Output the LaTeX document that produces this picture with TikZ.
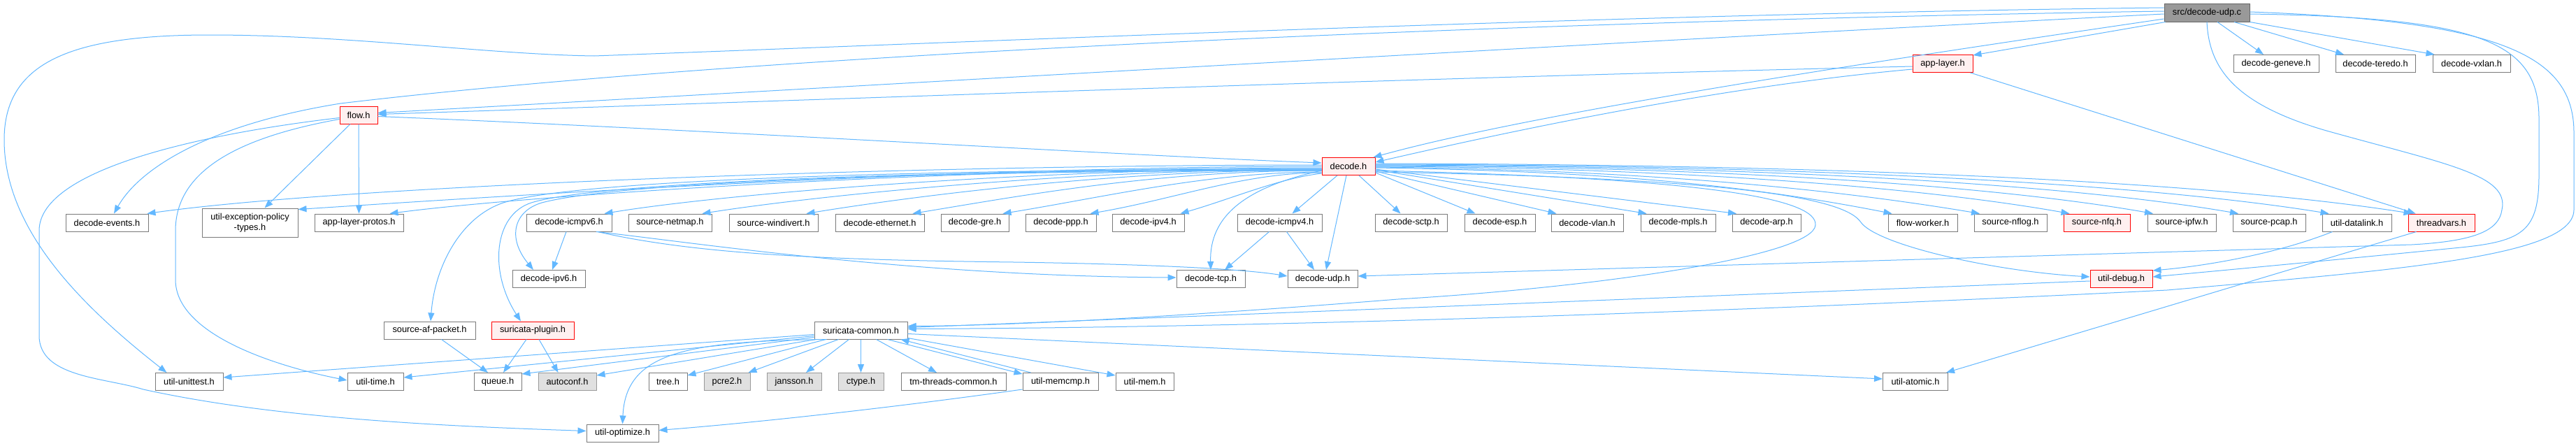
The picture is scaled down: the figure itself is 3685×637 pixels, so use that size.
\documentclass[tikz,border=0pt]{standalone}
\usepackage{fontspec}
\setmainfont{Liberation Sans}
\usetikzlibrary{arrows.meta,calc}
\definecolor{edgeblue}{HTML}{63B8FF}
\definecolor{nodegray}{HTML}{7A7A7A}
\definecolor{nodered}{HTML}{FF0000}
\definecolor{nodepink}{HTML}{FFF0F0}
\definecolor{sysgray}{HTML}{999999}
\definecolor{sysfill}{HTML}{E0E0E0}
\definecolor{rootdraw}{HTML}{666666}
\definecolor{rootfill}{HTML}{999999}
\newcommand\nodefont{\fontsize{12.8}{15}\selectfont}
\tikzset{
  nb/.style={draw=nodegray, fill=white, line width=1pt, minimum height=25pt, inner sep=0pt, font=\nodefont, text=black},
  nr/.style={nb, draw=nodered, fill=nodepink},
  ns/.style={nb, draw=sysgray, fill=sysfill},
  nroot/.style={nb, draw=rootdraw, fill=rootfill},
  e/.style={draw=edgeblue, line width=1pt, -{Triangle[length=12pt,width=9pt]}},
}
\begin{document}
\begin{tikzpicture}[x=1pt,y=-1pt]
\useasboundingbox[fill=white] (0,0) rectangle (3685,637);
% ---------- nodes ----------
\node[nroot, minimum width=122pt, minimum height=26pt] (R) at (3157,18) {src/decode-udp.c};
\node[nr, minimum width=86pt] (app) at (2779,91) {app-layer.h};
\node[nb, minimum width=122pt] (gen) at (3256,91) {decode-geneve.h};
\node[nb, minimum width=114pt] (ter) at (3398,91) {decode-teredo.h};
\node[nb, minimum width=111pt] (vx) at (3535.5,91) {decode-vxlan.h};
\node[nr, minimum width=54pt] (flow) at (513,164.5) {flow.h};
\node[nr, minimum width=76pt] (D) at (1929,238) {decode.h};
\node[nb, minimum width=118pt] (de) at (153,318.5) {decode-events.h};
\node[nb, minimum width=137pt, minimum height=41pt, align=center] (uep) at (357.5,318.5) {util-exception-policy\\-types.h};
\node[nb, minimum width=127pt] (alp) at (513.5,318.5) {app-layer-protos.h};
\node[nb, minimum width=122pt] (i6) at (814,318.5) {decode-icmpv6.h};
\node[nb, minimum width=119pt] (snm) at (958.5,318.5) {source-netmap.h};
\node[nb, minimum width=127pt] (swd) at (1106.5,318.5) {source-windivert.h};
\node[nb, minimum width=127pt] (deth) at (1258.5,318.5) {decode-ethernet.h};
\node[nb, minimum width=97pt] (gre) at (1394.5,318.5) {decode-gre.h};
\node[nb, minimum width=101pt] (ppp) at (1517.5,318.5) {decode-ppp.h};
\node[nb, minimum width=103pt] (ip4) at (1642.5,318.5) {decode-ipv4.h};
\node[nb, minimum width=121pt] (i4) at (1830.5,318.5) {decode-icmpv4.h};
\node[nb, minimum width=103pt] (sctp) at (2018.5,318.5) {decode-sctp.h};
\node[nb, minimum width=101pt] (esp) at (2145.5,318.5) {decode-esp.h};
\node[nb, minimum width=103pt] (vlan) at (2270.5,318.5) {decode-vlan.h};
\node[nb, minimum width=107pt] (mpls) at (2400.5,318.5) {decode-mpls.h};
\node[nb, minimum width=98pt] (arp) at (2527,318.5) {decode-arp.h};
\node[nb, minimum width=99pt] (fw) at (2750.5,318.5) {flow-worker.h};
\node[nb, minimum width=104pt] (nflog) at (2876,318.5) {source-nflog.h};
\node[nr, minimum width=95pt] (nfq) at (2999.5,318.5) {source-nfq.h};
\node[nb, minimum width=98pt] (ipfw) at (3121,318.5) {source-ipfw.h};
\node[nb, minimum width=104pt] (pcap) at (3246,318.5) {source-pcap.h};
\node[nb, minimum width=99pt] (dl) at (3371.5,318.5) {util-datalink.h};
\node[nr, minimum width=95pt] (tv) at (3492.5,318.5) {threadvars.h};
\node[nb, minimum width=104pt] (ip6) at (785,399) {decode-ipv6.h};
\node[nb, minimum width=98pt] (tcp) at (1732,399) {decode-tcp.h};
\node[nb, minimum width=100pt] (udp) at (1892,399) {decode-udp.h};
\node[nr, minimum width=89pt] (dbg) at (3034.5,399) {util-debug.h};
\node[nb, minimum width=131pt] (sap) at (614.5,472.5) {source-af-packet.h};
\node[nr, minimum width=118pt] (sp) at (762,472.5) {suricata-plugin.h};
\node[nb, minimum width=133pt] (sc) at (1231.5,472.5) {suricata-common.h};
\node[nb, minimum width=97pt] (uu) at (270.5,546) {util-unittest.h};
\node[nb, minimum width=80pt] (ut) at (537,546) {util-time.h};
\node[nb, minimum width=68pt] (q) at (712,546) {queue.h};
\node[ns, minimum width=83pt] (ac) at (811.5,546) {autoconf.h};
\node[nb, minimum width=55pt] (tree) at (955.5,546) {tree.h};
\node[ns, minimum width=66pt] (pcre) at (1040,546) {pcre2.h};
\node[ns, minimum width=78pt] (jan) at (1136,546) {jansson.h};
\node[ns, minimum width=65pt] (ct) at (1231.5,546) {ctype.h};
\node[nb, minimum width=150pt] (tm) at (1364,546) {tm-threads-common.h};
\node[nb, minimum width=108pt] (mc) at (1517,546) {util-memcmp.h};
\node[nb, minimum width=83pt] (mem) at (1637.5,546) {util-mem.h};
\node[nb, minimum width=93pt] (at) at (2740,546) {util-atomic.h};
\node[nb, minimum width=103pt] (uo) at (890.5,619.5) {util-optimize.h};
% ---------- edges from src/decode-udp.c ----------
\draw[e] ([xshift=2pt]R.south west) -- ([yshift=-1pt]app.north east);
\draw[e] ([yshift=-9pt]R.west) .. controls (2700,85) and (2200,160) .. ([xshift=-3pt]D.north east);
\draw[e] ([yshift=-2pt]R.west) .. controls (2400,55) and (1200,125) .. ([yshift=3pt]flow.east);
\draw[e] ([yshift=2pt]R.west) .. controls (2200,30) and (1100,75) .. (487,148) .. controls (300,178) and (200,240) .. ([xshift=10pt]de.north);
\draw[e] ([yshift=7pt]R.west) .. controls (2300,20) and (1400,60) .. (850,80) .. controls (700,78) and (500,50) .. (300,50) .. controls (100,50) and (6,90) .. (6,200) .. controls (6,330) and (120,440) .. ([xshift=-32pt]uu.north);
\draw[e] ([xshift=15pt]R.south) -- ([xshift=-18pt]gen.north);
\draw[e] ([xshift=39pt]R.south) -- ([xshift=-45pt]ter.north);
\draw[e] (R.south east) -- ([xshift=-53pt]vx.north);
\draw[e] (R.south) .. controls (3160,100) and (3200,150) .. (3328,187) .. controls (3500,235) and (3590,250) .. (3579,300) .. controls (3575,330) and (3540,345) .. (3450,350) -- ([yshift=4pt]udp.east);
\draw[e] ([yshift=-2pt]R.east) .. controls (3550,25) and (3632,60) .. (3632,170) -- (3632,250) .. controls (3632,330) and (3610,345) .. (3520,354) .. controls (3400,366) and (3200,385) .. ([yshift=3pt]dbg.east);
\draw[e] ([yshift=1pt]R.east) .. controls (3580,30) and (3682,80) .. (3682,190) -- (3682,300) .. controls (3682,365) and (3450,385) .. (3100,415) .. controls (2600,440) and (1900,468) .. ([yshift=2pt]sc.east);
% ---------- app-layer.h ----------
\draw[e] ([yshift=-4pt]app.west) .. controls (2000,112) and (1200,142) .. ([yshift=1pt]flow.east);
\draw[e] ([yshift=-8pt]app.west) .. controls (2450,125) and (2150,190) .. ([yshift=-7pt]D.north east);
\draw[e] ([xshift=-4pt]app.south east) -- ([xshift=-37pt]tv.north);
% ---------- flow.h ----------
\draw[e] ([yshift=-2pt]flow.east) .. controls (1000,185) and (1600,222) .. ([yshift=5pt]D.west);
\draw[e] ([xshift=-12pt]flow.south) -- ([xshift=21pt]uep.north);
\draw[e] (flow.south) -- (alp.north);
\draw[e] ([yshift=-6pt]flow.west) .. controls (350,195) and (251,240) .. (251,330) -- (251,400) .. controls (251,480) and (400,525) .. ([yshift=2pt]ut.west);
\draw[e] ([yshift=-4pt]flow.west) .. controls (300,190) and (56,240) .. (56,330) -- (56,480) .. controls (56,540) and (150,540) .. (205,557) .. controls (400,600) and (650,610) .. ([yshift=3pt]uo.west);
% ---------- decode.h to the left ----------
\draw[e] ([yshift=2pt]D.west) .. controls (1300,236) and (500,265) .. ([xshift=-2pt]de.north east);
\draw[e] (D.west) .. controls (1350,238) and (650,285) .. ([yshift=-2pt]uep.north east);
\draw[e] ([yshift=-2pt]D.west) .. controls (1350,240) and (750,280) .. ([xshift=-20pt]alp.north east);
\draw[e] ([yshift=-4pt]D.west) .. controls (1300,242) and (820,258) .. (720,290) .. controls (660,310) and (622,380) .. ([xshift=1.5pt]sap.north);
\draw[e] ([yshift=-5pt]D.west) .. controls (1300,243) and (850,262) .. (760,290) .. controls (705,308) and (700,390) .. ([xshift=-17pt]sp.north);
\draw[e] ([yshift=-6pt]D.west) .. controls (1300,244) and (880,262) .. (775,290) .. controls (735,302) and (725,340) .. ([xshift=-22pt]ip6.north);
\draw[e] ([yshift=-3pt]D.west) .. controls (1500,241) and (1050,275) .. ([xshift=-11pt]i6.north east);
\draw[e] ([yshift=-4pt]D.west) .. controls (1550,242) and (1180,278) .. ([xshift=-14pt]snm.north east);
\draw[e] ([yshift=-5pt]D.west) .. controls (1600,243) and (1310,280) .. ([xshift=-17pt]swd.north east);
\draw[e] ([yshift=-6pt]D.west) .. controls (1650,244) and (1450,282) .. ([xshift=-17pt]deth.north east);
\draw[e] ([yshift=-8pt]D.west) .. controls (1730,246) and (1580,282) .. ([xshift=-9pt]gre.north east);
\draw[e] ([yshift=-9pt]D.west) .. controls (1780,247) and (1680,285) .. ([xshift=-9pt]ppp.north east);
\draw[e] ([yshift=-10pt]D.west) .. controls (1830,255) and (1760,285) .. ([xshift=-6pt]ip4.north east);
\draw[e] ([xshift=-16pt]D.south) -- ([xshift=18pt]i4.north);
\draw[e] ([yshift=-6pt]D.west) .. controls (1780,268) and (1730,310) .. (tcp.north);
\draw[e] ([xshift=-3pt]D.south) -- ([xshift=5pt]udp.north);
% ---------- decode.h to the right ----------
\draw[e] ([xshift=15pt]D.south) -- ([xshift=-15pt]sctp.north);
\draw[e] ([yshift=-9pt]D.east) -- ([xshift=-35pt]esp.north);
\draw[e] ([yshift=-7pt]D.east) -- ([xshift=-44pt]vlan.north);
\draw[e] ([yshift=-5pt]D.east) -- ([xshift=-45pt]mpls.north);
\draw[e] ([yshift=-4pt]D.east) -- ([xshift=-43pt]arp.north);
\draw[e] ([yshift=-2pt]D.east) .. controls (2300,245) and (2500,265) .. ([xshift=-44pt]fw.north);
\draw[e] ([yshift=-1pt]D.east) .. controls (2350,243) and (2620,270) .. ([xshift=-44pt]nflog.north);
\draw[e] (D.east) .. controls (2400,240) and (2750,268) .. ([xshift=-39pt]nfq.north);
\draw[e] ([yshift=1pt]D.east) .. controls (2450,238) and (2850,265) .. ([xshift=-41pt]ipfw.north);
\draw[e] ([yshift=2pt]D.east) .. controls (2500,237) and (2950,262) .. ([xshift=-44pt]pcap.north);
\draw[e] ([yshift=3pt]D.east) .. controls (2550,236) and (3050,260) .. ([xshift=-40pt]dl.north);
\draw[e] ([yshift=4pt]D.east) .. controls (2600,235) and (3150,258) .. ([xshift=-42pt]tv.north);
\draw[e] ([yshift=-6pt]D.east) .. controls (2450,255) and (2600,285) .. (2597,322) .. controls (2594,365) and (2300,410) .. (2000,428) .. controls (1700,452) and (1450,466) .. ([yshift=6pt]sc.east);
\draw[e] ([yshift=-8pt]D.east) .. controls (2500,255) and (2640,285) .. (2662,318) .. controls (2685,350) and (2850,388) .. ([yshift=3pt]dbg.west);
% ---------- decode-icmpv6.h / decode-icmpv4.h ----------
\draw[e] ([xshift=-4pt]i6.south) -- ([xshift=5pt]ip6.north);
\draw[e] ([xshift=39pt]i6.south) .. controls (980,345) and (1300,395) .. ([yshift=2pt]tcp.west);
\draw[e] ([xshift=41pt]i6.south) .. controls (1000,365) and (1200,372) .. (1450,375) .. controls (1650,378) and (1780,385) .. ([yshift=4pt]udp.west);
\draw[e] ([xshift=-15pt]i4.south) -- ([xshift=20pt]tcp.north);
\draw[e] ([xshift=10pt]i4.south) -- ([xshift=-12pt]udp.north);
% ---------- source-af-packet.h / suricata-plugin.h ----------
\draw[e] ([xshift=17pt]sap.south) -- ([xshift=-14pt]q.north);
\draw[e] ([xshift=-9pt]sp.south) -- ([xshift=8pt]q.north);
\draw[e] ([xshift=9pt]sp.south) -- ([xshift=-13pt]ac.north);
% ---------- suricata-common.h ----------
\draw[e] ([yshift=-6pt]sc.west) -- ([yshift=6pt]uu.east);
\draw[e] ([yshift=-8pt]sc.west) -- ([yshift=6pt]ut.east);
\draw[e] ([yshift=-10pt]sc.west) -- ([yshift=11pt]q.east);
\draw[e] ([xshift=3pt]sc.south west) -- ([yshift=9pt]ac.east);
\draw[e] ([xshift=18pt]sc.south west) .. controls (980,488) and (895,505) .. (uo.north);
\draw[e] ([xshift=17pt]sc.south west) -- ([yshift=9pt]tree.east);
\draw[e] ([xshift=35pt]sc.south west) -- ([xshift=-3pt]pcre.north east);
\draw[e] ([xshift=50pt]sc.south west) -- ([xshift=17pt]jan.north);
\draw[e] (sc.south) -- (ct.north);
\draw[e] ([xshift=22pt]sc.south) -- ([xshift=-24pt]tm.north);
\draw[e] ([xshift=38pt]sc.south) -- ([yshift=11pt]mc.west);
\draw[e] ([xshift=12pt]mc.north west) -- ([xshift=-10pt]sc.south east);
\draw[e] ([yshift=-11pt]sc.east) -- ([yshift=9pt]mem.west);
\draw[e] ([yshift=-5pt]sc.east) -- ([yshift=4pt]at.west);
\draw[e] ([yshift=-11pt]mc.west) .. controls (1300,580) and (1100,603) .. ([yshift=4pt]uo.east);
% ---------- util-debug.h, util-datalink.h, threadvars.h ----------
\draw[e] ([yshift=-3pt]dbg.west) -- ([yshift=4pt]sc.east);
\draw[e] ([xshift=-35pt]dl.south) .. controls (3260,362) and (3160,380) .. ([yshift=12pt]dbg.east);
\draw[e] ([xshift=-36pt]tv.south) -- ([xshift=44pt]at.north);
\end{tikzpicture}
\end{document}
